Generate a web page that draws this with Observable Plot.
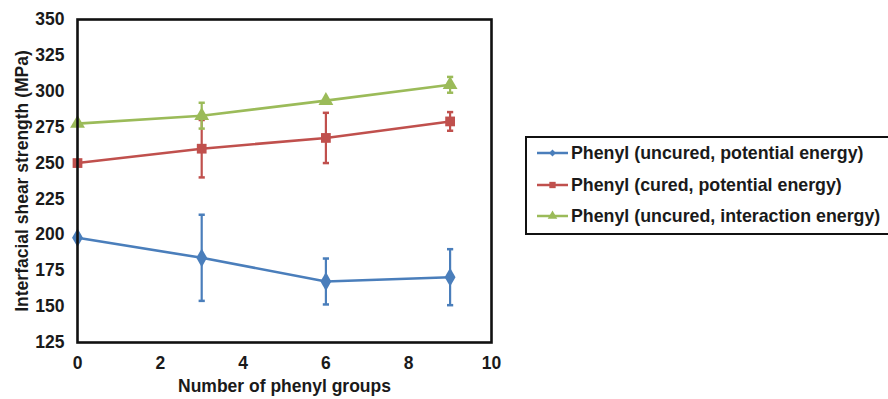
<!DOCTYPE html>
<html>
<head>
<meta charset="utf-8">
<script src="https://cdn.jsdelivr.net/npm/d3@7"></script>
<script src="https://cdn.jsdelivr.net/npm/@observablehq/plot@0.6"></script>
<style>
  html, body { margin: 0; padding: 0; background: #fff; overflow: hidden; }
  #wrap { position: relative; width: 888px; height: 399px; overflow: hidden; font-family: "Liberation Sans", Arial, sans-serif; }
  #legend {
    position: absolute; left: 525px; top: 136px; width: 380px; height: 95px;
    border: 2px solid #111; background: #fff; box-sizing: content-box;
  }
  .row { position: absolute; left: 9px; height: 22px; display: flex; align-items: center;
         font-weight: bold; font-size: 17.8px; color: #1a1a1a; white-space: nowrap; }
  .row svg { margin-right: 2px; }
</style>
</head>
<body>
<div id="wrap"><div id="legend"></div></div>
<script>
// Number of phenyl groups on the x axis
const phenylCounts = [0, 3, 6, 9];

// Series names, colours and marker shapes
const seriesNames = [
  "Phenyl (uncured, potential energy)",
  "Phenyl (cured, potential energy)",
  "Phenyl (uncured, interaction energy)"
];
const seriesColors = ["#4a7ebb", "#c0504d", "#9bbb59"];
const seriesSymbols = ["diamond", "square", "triangle"];

// Interfacial shear strength (MPa) and error half-widths for each series
const uncuredPotential = [198, 184, 167.5, 170.5];
const uncuredPotentialErr = [0, 30, 16, 19.5];
const curedPotential = [250, 260, 267.5, 279];
const curedPotentialErr = [0, 20, 17.5, 6.5];
const uncuredInteraction = [277.5, 283, 293.5, 304.5];
const uncuredInteractionErr = [0, 9, 0, 5.5];

const yTicks = [125, 150, 175, 200, 225, 250, 275, 300, 325, 350];
const xTicks = [0, 2, 4, 6, 8, 10];

const values = [uncuredPotential, curedPotential, uncuredInteraction];
const errors = [uncuredPotentialErr, curedPotentialErr, uncuredInteractionErr];

const rows = [];
seriesNames.forEach((s, i) => {
  phenylCounts.forEach((x, j) => {
    rows.push({series: s, x, y: values[i][j], err: errors[i][j]});
  });
});
const withErr = rows.filter(d => d.err > 0);
const capHalf = 0.075;

const marks = [];
seriesNames.forEach((s, i) => {
  const data = rows.filter(d => d.series === s);
  const eb = withErr.filter(d => d.series === s);
  const c = seriesColors[i];
  marks.push(
    Plot.ruleX(eb, {x: "x", y1: d => d.y - d.err, y2: d => d.y + d.err, stroke: c, strokeWidth: 2.2}),
    Plot.link(eb, {x1: d => d.x - capHalf, x2: d => d.x + capHalf, y1: d => d.y + d.err, y2: d => d.y + d.err, stroke: c, strokeWidth: 2.5}),
    Plot.link(eb, {x1: d => d.x - capHalf, x2: d => d.x + capHalf, y1: d => d.y - d.err, y2: d => d.y - d.err, stroke: c, strokeWidth: 2.5}),
    Plot.line(data, {x: "x", y: "y", stroke: c, strokeWidth: 2.6}),
    Plot.dot(data, {x: "x", y: "y", symbol: seriesSymbols[i], fill: c, stroke: "none", r: i === 0 ? 5.7 : 5.5})
  );
});

const chart = Plot.plot({
  width: 888,
  height: 399,
  marginLeft: 77,
  marginTop: 19,
  marginRight: 397,
  marginBottom: 57,
  style: {fontFamily: "'Liberation Sans', Arial, sans-serif", fontSize: "17.5px", fontWeight: "bold", color: "#1a1a1a", background: "transparent"},
  x: {domain: [0, 10]},
  y: {domain: [125, 350]},
  marks: [
    Plot.axisY({ticks: yTicks, tickSize: 0, tickPadding: 13, label: "Interfacial shear strength (MPa)", labelAnchor: "center", labelArrow: "none", labelOffset: 62}),
    Plot.axisX({ticks: xTicks, tickSize: 0, tickPadding: 14, label: "Number of phenyl groups", labelAnchor: "center", labelArrow: "none", labelOffset: 49}),
    ...marks,
    Plot.frame({stroke: "#111", strokeWidth: 2.6})
  ]
});
document.getElementById("wrap").prepend(chart);
chart.style.position = "absolute";
chart.style.left = "0";
chart.style.top = "0";

// Legend entries: short line with the series marker, then the name
const legend = document.getElementById("legend");
const rowTops = [4, 36, 67];
seriesNames.forEach((s, i) => {
  const row = document.createElement("div");
  row.className = "row";
  row.style.top = rowTops[i] + "px";
  const sym = d3.symbol().type([d3.symbolDiamond2, d3.symbolSquare, d3.symbolTriangle][i]).size(i === 0 ? 30 : 40)();
  row.innerHTML = `<svg width="33" height="20"><line x1="1" x2="32" y1="10" y2="10" stroke="${seriesColors[i]}" stroke-width="2.5"/>` +
    `<path d="${sym}" transform="translate(16.5,10)" fill="${seriesColors[i]}"/></svg><span>${s}</span>`;
  legend.appendChild(row);
});
</script>
</body>
</html>
